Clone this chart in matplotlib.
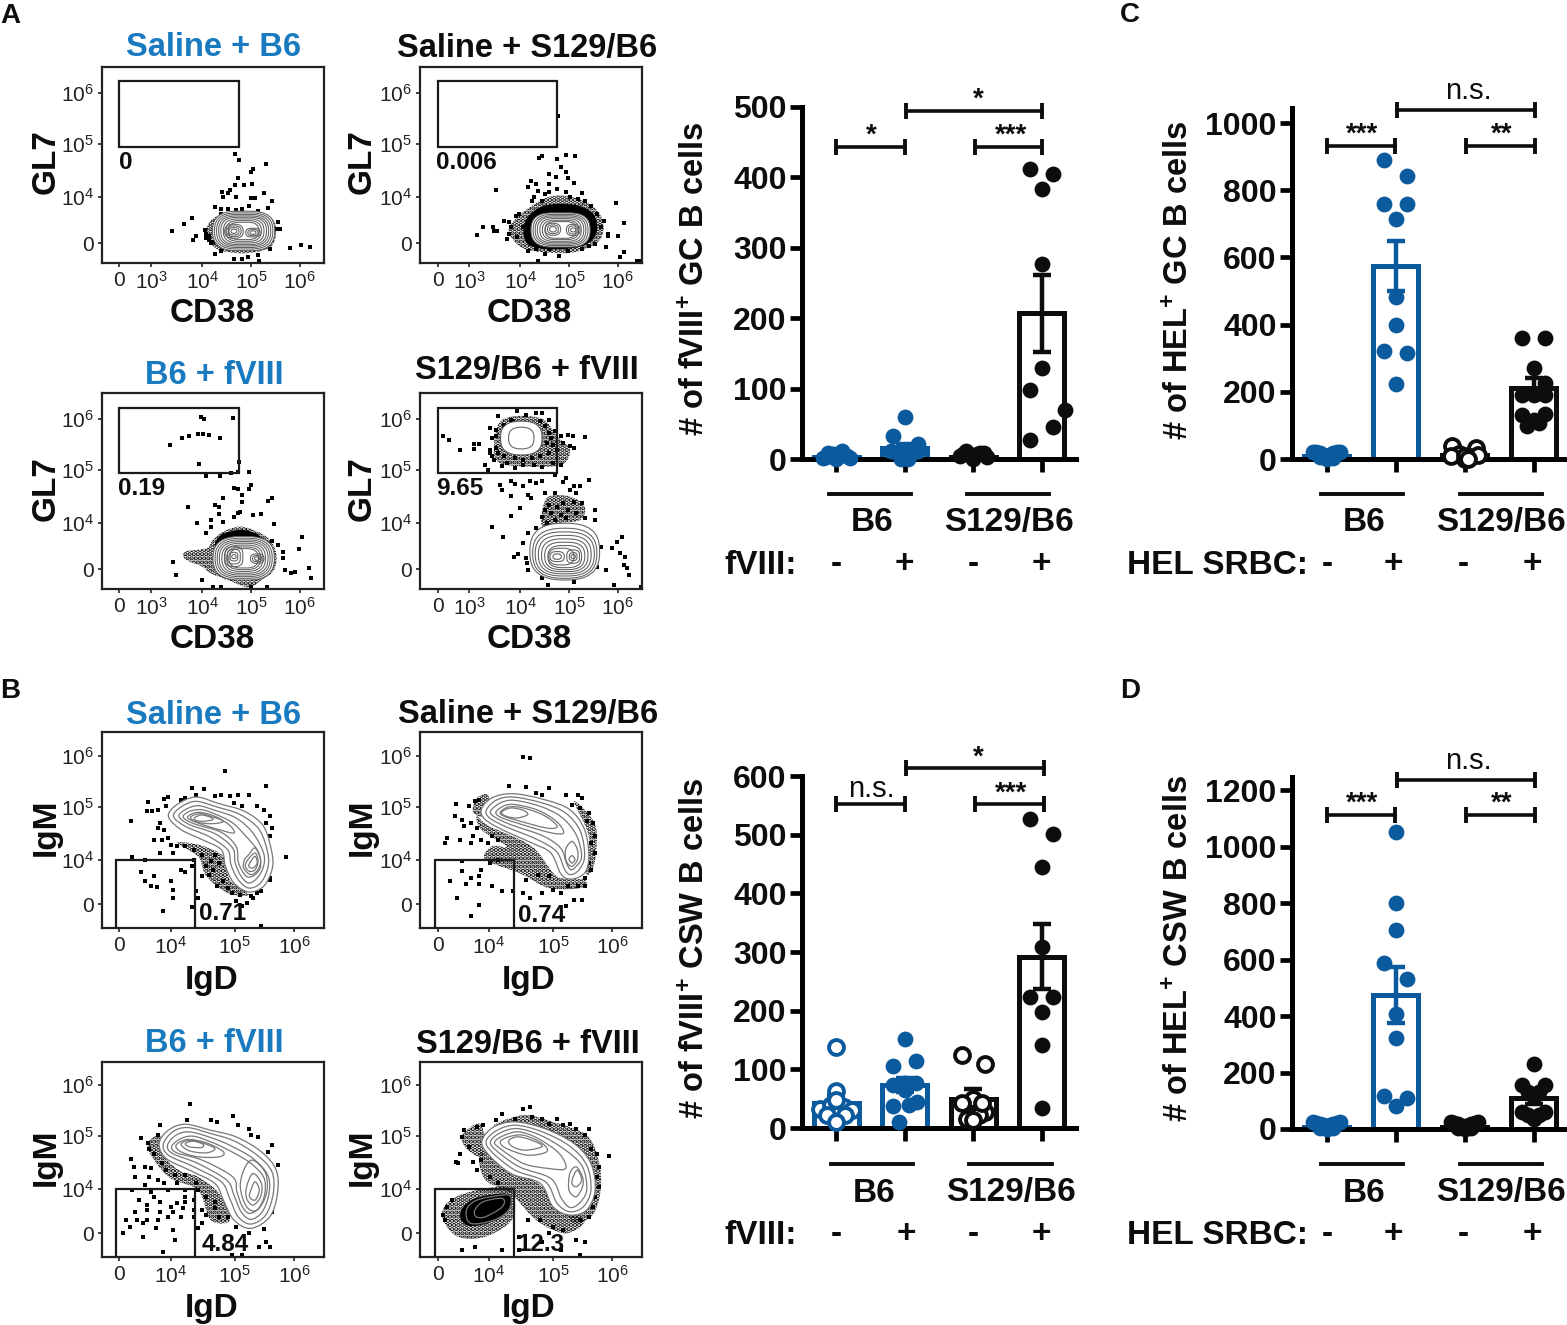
import numpy as np
import matplotlib
matplotlib.use("Agg")
import matplotlib.pyplot as plt
from matplotlib.lines import Line2D
from matplotlib.patches import PathPatch, Polygon, FancyBboxPatch
from matplotlib.path import Path

plt.rcParams['font.family'] = ['Liberation Sans', 'DejaVu Sans']
plt.rcParams['mathtext.fontset'] = 'custom'
plt.rcParams['mathtext.bf'] = 'Liberation Sans:bold'
plt.rcParams['mathtext.rm'] = 'Liberation Sans'
plt.rcParams['hatch.linewidth'] = 2.2

W, H = 1567, 1325
BLUE = '#0b5a9e'
TITLE_BLUE = '#1a7abf'
INK = '#0d0d0d'

# ---- bar panels: group means, errors, and dots (offset from group centre, value)
gc_f8_mean = [3, 16, 3, 207]
gc_f8_err = [1, 6, 1, 55]
gc_f8_off = [[-.2, -.15, -.1, -.05, 0, .05, .1, .15, .2, -.12, .08, 0],
             [0, -.17, .19, -.1, 0, .1, 0, -.05, .05, -.2, .2],
             [-.2, -.15, -.1, -.05, 0, .05, .1, .15, .2, 0],
             [-.17, .17, 0, 0, 0, -.17, .34, .17, -.17]]
gc_f8_val = [[1, 3, 6, 7, 5, 9, 6, 4, 1, 9, 11, 0],
             [60, 33, 22, 10, 12, 8, 3, 0, 0, 12, 12],
             [4, 7, 12, 6, 3, 7, 9, 8, 3, 0],
             [412, 405, 383, 277, 129, 98, 70, 45, 27]]
gc_f8_open = [False, False, False, False]

csw_f8_mean = [42, 73, 50, 292]
csw_f8_err = [14, 12, 17, 55]
csw_f8_off = [[0, 0, -.23, -.08, .11, .23, 0, -.13, .13, 0, 0],
              [0, .17, -.17, 0, -.17, .17, 0, .18, .06, -.17, -.08],
              [-.17, .17, 0, .17, .08, -.09, 0, -.17, .13],
              [-.17, .17, 0, 0, -.17, .17, 0, 0, 0]]
csw_f8_val = [[138, 63, 33, 39, 36, 30, 22, 22, 22, 10, 47],
              [152, 115, 106, 76, 73, 76, 64, 44, 39, 38, 10],
              [124, 109, 50, 27, 22, 16, 13, 42, 42],
              [526, 501, 445, 309, 224, 224, 197, 142, 34]]
csw_f8_open = [True, False, True, False]

gc_hel_mean = [8, 575, 13, 212]
gc_hel_err = [2, 75, 5, 30]
gc_hel_off = [[-.2, -.15, -.1, -.05, 0, .05, .1, .15, .2, 0, -.1, .1],
              [-.17, .17, -.17, .17, 0, 0, 0, -.17, .17, 0],
              [-.18, .16, -.08, 0, .08, .2, -.2, 0, .05],
              [-.17, .17, 0, .17, -.17, 0, .17, -.17, .17, 0, -.09, .08]]
gc_hel_val = [[22, 22, 18, 12, 6, 12, 18, 22, 22, 0, 5, 3],
              [891, 842, 758, 758, 715, 482, 398, 323, 315, 222],
              [38, 33, 14, 0, 5, 12, 8, 10, 0],
              [361, 361, 271, 226, 191, 191, 191, 132, 135, 115, 97, 107]]
gc_hel_open = [False, False, True, False]

csw_hel_mean = [8, 475, 8, 110]
csw_hel_err = [2, 100, 2, 20]
csw_hel_off = [[-.2, -.15, -.1, -.05, 0, .05, .1, .15, .2, 0, -.1, .1],
               [0, 0, 0, -.17, .17, 0, 0, -.17, .17, 0],
               [-.2, -.15, -.1, -.05, 0, .05, .1, .15, .2, 0, -.1, .1],
               [0, -.17, .17, -.08, .08, 0, -.17, .17, -.08, .08, 0]]
csw_hel_val = [[24, 22, 18, 14, 12, 14, 18, 22, 24, 0, 3, 2],
               [1052, 799, 705, 589, 530, 407, 321, 116, 110, 83],
               [24, 22, 16, 12, 10, 12, 16, 22, 24, 0, 2, 4],
               [232, 155, 155, 131, 131, 114, 60, 60, 48, 48, 37]]
csw_hel_open = [False, False, False, False]

group_colors = [BLUE, BLUE, INK, INK]

# ---- flow panels, read in scan channels
ticks_cd38_1 = [284, 360, 480, 596, 711]
ticks_cd38_2 = [1037, 1112, 1233, 1348, 1463]
ticks_igd_1 = [284, 405, 557, 697]
ticks_igd_2 = [1037, 1158, 1310, 1450]
labels_cd38 = ['0', r'$\mathregular{10^3}$', r'$\mathregular{10^4}$', r'$\mathregular{10^5}$', r'$\mathregular{10^6}$']
labels_igd = ['0', r'$\mathregular{10^4}$', r'$\mathregular{10^5}$', r'$\mathregular{10^6}$']
labels_y = ['0', r'$\mathregular{10^4}$', r'$\mathregular{10^5}$', r'$\mathregular{10^6}$']

a1_dots = [(558,462),(568,478),(630,492),(600,505),(595,515),(565,533),(557,553),(578,553),(598,549),(527,575),
           (545,567),(542,578),(530,590),(560,590),(625,577),(595,593),(605,592),(645,600),(510,620),(525,625),
           (540,625),(560,628),(575,625),(590,615),(613,630),(635,622),(525,640),(455,652),(437,671),(408,691),
           (465,705),(458,718),(487,687),(490,700),(490,712),(497,718),(500,728),(660,665),(665,685),(655,686),
           (510,760),(525,752),(555,775),(575,775),(588,768),(612,763),(615,782),(687,741),(713,733),(735,738),
           (495,705),(505,725),(640,745),(545,745)]
a2_dots = [(1175,568),(1460,606),(1285,468),(1278,472),(1320,475),(1342,463),(1362,468),(1330,500),(1340,515),
           (1300,520),(1318,530),(1345,532),(1258,540),(1250,558),(1270,550),(1275,570),(1300,550),(1360,548),
           (1380,578),(1290,580),(1340,575),(1350,590),(1230,640),(1222,645),(1195,660),(1145,678),(1130,702),
           (1168,680),(1170,690),(1178,690),(1478,668),(1440,700),(1465,707),(1435,738),(1478,753),(1470,768),
           (1275,780),(1290,760),(1325,765),(1300,745),(1345,750),(1205,700),(1210,680),(1225,710),(1430,660),
           (1425,680),(1510,780),(1518,780),(1322,348),(1260,600),(1285,600),(1400,615),(1415,640),(1240,680),
           (1300,575),(1320,565),(1265,590),(1370,595),(1385,600),(1205,665),(1200,715),(1250,750),(1270,745),
           (1395,735),(1410,730),(1380,745),(1440,705)]
a3_dots = [(403,287),(432,266),(448,260),(470,253),(483,252),(497,257),(522,266),(478,201),(485,208),(553,205),
           (472,342),(568,338),(490,378),(522,378),(548,370),(565,368),(590,368),(555,415),(565,418),(575,435),
           (595,405),(590,418),(635,453),(645,443),(447,470),(510,465),(520,472),(530,445),(575,455),(565,490),
           (570,485),(520,492),(555,500),(600,495),(618,492),(467,520),(500,510),(530,515),(650,522),(715,562),
           (708,598),(733,655),(738,685),(700,665),(690,668),(675,660),(672,625),(672,605),(660,585),(645,572),
           (412,637),(417,676),(480,690),(505,712),(525,712),(595,712),(633,712),(490,550),(500,530)]
a4_dots = [(1050,260),(1063,270),(1090,300),(1122,282),(1135,282),(1122,298),(1155,360),(1150,345),(1165,320),
           (1160,300),(1175,295),(1165,265),(1190,268),(1200,275),(1180,200),(1160,235),(1175,240),(1195,225),
           (1210,210),(1225,185),(1245,195),(1270,190),(1285,190),(1300,210),(1290,230),(1315,245),(1330,260),
           (1345,255),(1358,260),(1385,262),(1305,265),(1310,285),(1335,280),(1350,290),(1360,295),(1320,300),
           (1300,310),(1280,320),(1260,325),(1240,330),(1220,325),(1195,320),(1180,310),(1170,330),(1200,340),
           (1220,355),(1240,345),(1265,345),(1285,352),(1310,340),(1330,345),(1190,350),(1160,310),(1215,215),
           (1280,215),(1300,250),(1175,260),(1200,250),(1295,280),(1205,300),(1185,405),(1190,420),(1210,395),
           (1220,403),(1240,408),(1255,393),(1270,400),(1285,395),(1315,375),(1340,385),(1335,398),(1360,410),
           (1395,392),(1375,408),(1210,438),(1250,435),(1258,445),(1290,430),(1315,430),(1350,420),(1365,430),
           (1335,458),(1360,455),(1380,460),(1300,465),(1320,472),(1345,480),(1290,480),(1410,480),(1233,475),
           (1210,497),(1285,500),(1305,490),(1330,495),(1365,490),(1385,505),(1410,510),(1165,532),(1192,560),
           (1295,520),(1315,510),(1340,505),(1270,535),(1250,550),(1240,580),(1228,612),(1218,620),(1245,625),
           (1248,640),(1252,660),(1285,685),(1298,705),(1360,695),(1415,650),(1435,660),(1425,590),(1450,595),
           (1462,575),(1473,560),(1470,610),(1480,620),(1478,645),(1485,655),(1490,675),(1455,705),(1518,712)]
b1_dots = [(535,275),(632,320),(311,424),(678,532),(620,738),(455,325),(485,327),(440,355),(400,352),(390,358),
           (352,368),(350,395),(362,395),(375,390),(395,380),(430,360),(465,345),(510,350),(525,345),(545,350),
           (590,345),(565,345),(555,370),(575,380),(610,380),(625,392),(640,410),(630,430),(645,445),(640,470),
           (380,430),(375,445),(390,450),(365,480),(385,480),(400,475),(405,495),(420,500),(440,500),(460,510),
           (380,520),(410,520),(345,540),(315,532),(335,578),(365,590),(345,605),(360,620),(372,622),(405,605),
           (410,630),(410,655),(388,695),(430,570),(440,578),(460,540),(455,560),(480,525),(510,525),(520,550),
           (490,560),(500,545),(505,570),(480,590),(495,585),(465,635),(455,683),(470,655),(515,620),(540,625),
           (550,640),(570,645),(595,650),(610,640),(620,635),(560,665),(585,670),(600,655),(640,600),(640,595),
           (530,605),(575,680)]
b2_dots = [(1240,232),(1255,235),(1080,373),(1078,410),(1060,475),(1055,490),(1090,480),(1115,490),(1125,365),
           (1135,360),(1110,380),(1095,420),(1100,440),(1115,430),(1130,445),(1120,470),(1140,480),(1155,490),
           (1165,470),(1180,480),(1205,320),(1245,322),(1270,340),(1300,325),(1285,345),(1340,345),(1370,345),
           (1380,355),(1355,375),(1375,385),(1395,400),(1405,430),(1390,425),(1410,470),(1400,490),(1410,520),
           (1395,550),(1400,570),(1385,595),(1095,545),(1095,575),(1065,605),(1115,595),(1105,612),(1135,590),
           (1140,570),(1135,612),(1165,618),(1190,635),(1215,635),(1082,655),(1135,675),(1115,710),(1240,640),
           (1255,655),(1285,640),(1310,630),(1330,640),(1360,660),(1380,660),(1340,680),(1345,620),(1370,620),
           (1385,620),(1300,590),(1245,600),(1275,585),(1160,550),(1180,540)]
b3_dots = [(451,252),(445,300),(500,298),(515,305),(552,288),(590,325),(565,315),(380,315),(375,345),(335,352),
           (352,368),(355,385),(365,400),(612,350),(595,345),(645,375),(635,395),(660,435),(312,415),(318,440),
           (345,440),(360,445),(385,430),(395,450),(415,465),(440,465),(320,470),(355,470),(375,480),(345,495),
           (390,490),(420,490),(465,490),(315,510),(360,515),(400,510),(440,510),(470,510),(330,540),(350,555),
           (380,545),(405,560),(420,550),(440,545),(460,540),(490,530),(510,545),(320,575),(350,570),(380,575),
           (410,575),(435,565),(460,570),(480,570),(510,565),(300,600),(325,600),(350,600),(375,600),(400,590),
           (430,590),(460,590),(490,585),(520,590),(310,620),(340,610),(370,625),(410,630),(415,660),(293,638),
           (340,650),(388,695),(470,625),(560,620),(590,640),(625,628),(630,665),(615,680),(640,680),(550,705),
           (575,705),(480,610),(540,590),(645,575),(440,530),(365,530)]
b4_dots = [(1255,260),(1240,265),(1190,280),(1220,295),(1260,290),(1285,295),(1320,295),(1350,310),(1395,325),
           (1100,330),(1130,320),(1145,315),(1175,300),(1300,310),(1335,315),(1365,325),(1385,345),(1400,385),
           (1415,400),(1442,408),(1420,440),(1415,470),(1420,500),(1410,530),(1405,560),(1395,590),(1375,600),
           (1095,350),(1110,380),(1090,400),(1085,430),(1120,425),(1140,420),(1080,425),(1130,450),(1160,470),
           (1180,490),(1055,600),(1050,585),(1070,540),(1060,560),(1095,690),(1125,680),(1190,690),(1230,650),
           (1250,600),(1280,600),(1310,620),(1335,630),(1365,660),(1385,665),(1375,705),(1300,640),(1230,690),
           (1285,665),(1330,690)]

# solid black where the events pile up too thick to separate
a1_solid = []
a2_solid = [[(1280,620),(1320,610),(1370,615),(1405,640),(1415,685),(1400,722),(1360,742),(1290,745),(1250,730),(1240,690),(1250,650)]]
a3_solid = [[(525,555),(570,540),(605,550),(625,570),(640,600),(600,610),(540,600),(510,590)]]
a4_solid = []
b1_solid = []
b2_solid = []
b3_solid = []
b4_solid = [[(1095,565),(1125,535),(1190,520),(1212,530),(1205,572),(1165,605),(1115,618),(1092,598)]]

# stippled where the events are thick but still show white between them
a1_stipple = [[(530,640),(575,632),(640,650),(655,690),(640,740),(580,758),(515,745),(490,700),(500,660)]]
a2_stipple = [[(1280,600),(1320,585),(1370,595),(1415,630),(1430,680),(1415,725),(1360,755),(1290,755),(1235,740),(1205,690),(1230,645)]]
a3_stipple = [[(530,545),(570,530),(610,545),(640,570),(655,610),(650,660),(620,690),(590,712),(540,690),(500,670),(480,650),(440,628),(440,605),(490,595),(505,570)]]
a4_stipple = [[(1300,440),(1350,440),(1385,470),(1375,510),(1320,520),(1285,530),(1285,480)],
              [(1170,300),(1190,210),(1280,205),(1320,260),(1350,300),(1330,345),(1250,350),(1185,340)]]
b1_stipple = [[(420,490),(470,495),(530,530),(545,600),(590,645),(540,640),(490,590),(470,530)]]
b2_stipple = [[(1130,410),(1160,440),(1260,500),(1320,590),(1385,600),(1375,625),(1300,625),(1230,580),(1150,540),(1165,500),(1200,500),(1140,450)],
              [(1130,355),(1155,345),(1160,385),(1140,410),(1120,395)],
              [(1360,365),(1410,435),(1410,540),(1395,585),(1385,560),(1395,470)]]
b3_stipple = [[(350,380),(380,345),(385,400),(425,450),(470,470),(520,520),(545,600),(500,600),(470,510),(400,470)]]
b4_stipple = [[(1055,555),(1100,520),(1190,500),(1218,530),(1212,600),(1150,650),(1085,650),(1050,600)],
              [(1135,410),(1160,400),(1280,495),(1320,570),(1385,600),(1340,640),(1270,600),(1210,520),(1150,480)],
              [(1095,345),(1135,310),(1150,365),(1140,410),(1105,385)],
              [(1170,315),(1240,285),(1310,305),(1390,345),(1420,430),(1422,520),(1400,590),(1350,595),(1350,400),(1220,320)]]

# rings for the CD38 plots: centre x, centre y, width, height
a1_rings = [(578,691,147,118),(578,691,138,108),(578,691,128,99),(578,691,118,90),(578,691,108,82),(578,691,96,72),
            (578,691,84,62),(578,691,72,52),(555,692,44,42),(555,692,34,32),(555,692,24,22),(555,692,14,12),
            (600,696,34,26),(600,696,24,18),(600,696,14,10)]
a2_rings = [(1328,688,140,102),(1328,688,130,93),(1328,688,120,85),(1328,688,110,77),(1328,688,98,68),(1328,688,86,58),
            (1328,688,74,50),(1310,686,36,36),(1310,686,26,26),(1310,686,16,16),(1358,688,32,34),(1358,688,22,24),(1358,688,12,12)]
a3_rings = [(578,625,145,130),(578,625,135,120),(578,625,125,110),(578,625,115,100),(578,625,103,90),(578,625,91,79),
            (578,625,80,68),(578,625,70,58),(555,620,42,60),(555,620,30,44),(555,620,18,26),(555,620,10,12),
            (610,626,32,28),(610,626,22,18),(610,626,12,10)]
a4_rings = [(1338,605,165,170),(1338,610,152,150),(1338,612,140,132),(1338,614,125,115),(1338,616,110,98),
            (1338,618,95,82),(1338,620,80,66),(1330,620,60,50),(1358,620,30,40),(1358,620,18,24),(1358,620,10,12),
            (1320,620,34,30),(1320,620,20,16),
            (1235,265,98,101),(1235,265,60,65)]

# hand traced contours for the IgD/IgM plots
b1_curves = [[(400,410),(420,375),(465,352),(520,372),(580,395),(625,440),(645,520),(645,570),(625,620),(590,637),(555,610),(535,560),(525,510),(480,480),(430,450)],
             [(412,410),(430,382),(465,365),(515,382),(570,405),(615,450),(635,520),(635,565),(618,610),(590,625),(565,600),(548,555),(540,510),(495,470),(440,440)],
             [(425,410),(440,390),(470,378),(510,392),(560,415),(600,460),(625,520),(625,560),(610,595),(590,610),(572,590),(558,550),(552,505),(510,462),(450,435)],
             [(435,412),(450,395),(478,390),(510,403),(550,428),(580,465),(612,515),(618,560),(605,585),(588,592),(575,575),(565,545),(560,500),(525,458),(460,432)],
             [(445,413),(470,398),(510,410),(545,437),(555,460),(520,450),(470,430)],
             [(452,413),(475,402),(505,412),(530,425),(505,432),(470,428)],
             [(462,414),(478,406),(498,412),(505,420),(482,425),(465,422)],
             [(590,525),(605,505),(618,540),(612,570),(595,585),(578,565),(580,540)],
             [(588,540),(605,520),(612,545),(605,570),(592,575),(582,560)],
             [(595,545),(605,530),(610,550),(600,565),(590,560)]]
b2_curves = [[(1140,390),(1165,355),(1215,342),(1290,360),(1350,390),(1385,450),(1395,530),(1385,580),(1355,598),(1330,585),(1305,520),(1260,490),(1190,450),(1150,420)],
             [(1152,392),(1175,362),(1215,352),(1285,370),(1340,400),(1375,455),(1385,530),(1372,570),(1352,585),(1338,570),(1318,515),(1270,478),(1200,442),(1160,415)],
             [(1162,395),(1185,370),(1218,362),(1280,380),(1330,412),(1365,465),(1378,530),(1365,560),(1352,570),(1342,550),(1328,505),(1285,468),(1210,435),(1172,412)],
             [(1175,397),(1195,378),(1222,375),(1275,392),(1318,425),(1335,460),(1300,458),(1220,428),(1185,412)],
             [(1185,398),(1205,382),(1240,385),(1290,408),(1320,440),(1295,445),(1225,422),(1195,410)],
             [(1188,398),(1210,385),(1240,392),(1250,405),(1225,415),(1200,410)],
             [(1340,510),(1355,485),(1368,510),(1368,540),(1355,560),(1342,545)],
             [(1348,538),(1356,528),(1362,540),(1355,550)]]
b3_curves = [[(378,370),(400,330),(440,312),(500,330),(560,350),(620,395),(655,450),(658,520),(640,590),(595,625),(555,600),(530,540),(510,490),(450,450),(395,415)],
             [(388,372),(410,335),(445,322),(500,340),(555,362),(610,405),(645,455),(648,520),(630,585),(595,612),(565,590),(545,535),(525,485),(460,440),(400,405)],
             [(398,375),(418,345),(450,335),(500,352),(545,375),(600,415),(635,465),(638,520),(622,575),(595,598),(572,575),(555,525),(538,480),(470,430),(410,400)],
             [(408,378),(430,355),(460,348),(500,365),(535,385),(590,425),(625,470),(628,520),(615,562),(592,580),(575,560),(562,515),(552,470),(480,420),(420,398)],
             [(418,375),(445,358),(490,368),(530,395),(520,410),(470,410),(430,395)],
             [(430,372),(450,360),(480,368),(510,385),(490,398),(450,392)],
             [(440,370),(458,363),(482,372),(478,382),(450,380)],
             [(580,445),(600,420),(630,460),(632,520),(610,570),(585,560),(570,500)],
             [(585,500),(600,460),(620,490),(618,530),(600,555),(585,535)],
             [(595,510),(605,485),(615,510),(605,540),(592,530)]]
b4_curves = [[(1142,360),(1170,320),(1220,305),(1290,325),(1360,370),(1400,430),(1410,510),(1390,570),(1350,585),(1310,560),(1280,490),(1210,460),(1155,400)],
             [(1152,362),(1178,330),(1222,315),(1285,335),(1350,378),(1390,435),(1400,510),(1382,560),(1350,575),(1320,550),(1292,485),(1220,450),(1165,395)],
             [(1162,364),(1185,338),(1225,325),(1280,345),(1340,390),(1380,440),(1390,510),(1372,550),(1350,562),(1330,535),(1305,475),(1230,440),(1175,390)],
             [(1172,365),(1195,345),(1230,335),(1275,355),(1325,400),(1340,445),(1300,445),(1240,430),(1185,385)],
             [(1185,365),(1205,350),(1240,345),(1285,370),(1295,395),(1250,405),(1200,385)],
             [(1205,362),(1225,350),(1255,358),(1285,378),(1245,390),(1215,380)],
             [(1350,460),(1365,440),(1380,470),(1380,500),(1365,530),(1348,510)],
             [(1358,470),(1368,450),(1378,480),(1365,500),(1355,490)],
             [(1105,570),(1130,540),(1190,525),(1210,530),(1205,570),(1170,600),(1115,610)],
             [(1125,570),(1145,545),(1190,535),(1190,560),(1150,590),(1128,590)]]


def closed_curve(pts):
    # catmull-rom through the traced points
    P = np.array(pts, dtype=float)
    n = len(P)
    verts = [P[0]]
    codes = [Path.MOVETO]
    for i in range(n):
        p0, p1, p2, p3 = P[i - 1], P[i], P[(i + 1) % n], P[(i + 2) % n]
        verts += [p1 + (p2 - p0) / 6, p2 - (p3 - p1) / 6, p2]
        codes += [Path.CURVE4] * 3
    return Path(verts, codes)


fig = plt.figure(figsize=(W / 100, H / 100), dpi=100)


def add_ax(x0, y0, x1, y1):
    return fig.add_axes([x0 / W, 1 - y1 / H, (x1 - x0) / W, (y1 - y0) / H])


def put(px, py, s, **kw):
    kw.setdefault('ha', 'center')
    kw.setdefault('va', 'center')
    kw.setdefault('fontweight', 'bold')
    kw.setdefault('fontsize', 24)
    kw.setdefault('color', INK)
    fig.text(px / W, 1 - py / H, s, **kw)


def flow_panel(box, xlim, ylim, xticks, xlabels, yticks, dots, solid, stipple, rings, curves, gate, gate_txt, gate_pos):
    ax = add_ax(*box)
    ax.set_xlim(*xlim)
    ax.set_ylim(*ylim)
    for s in ax.spines.values():
        s.set_linewidth(1.6)
        s.set_color('#222222')
    ax.set_xticks(xticks, xlabels, fontsize=15, color='#222222')
    ax.set_yticks(yticks, labels_y, fontsize=15, color='#222222')
    ax.tick_params(length=3, width=1.2, color='#222222')
    ax.tick_params(axis='y', pad=2.5)
    ax.tick_params(axis='x', pad=3)
    xy = np.array(dots)
    ax.scatter(xy[:, 0], xy[:, 1], marker='s', s=7, color='black', linewidths=0, zorder=2)
    for h in stipple:
        ax.add_patch(PathPatch(closed_curve(h), fc='none', ec='black', lw=0, hatch='....', zorder=2))
    for h in solid:
        ax.add_patch(PathPatch(closed_curve(h), fc='black', ec='none', zorder=2))
    first = True
    for cx, cy, w, h in rings:
        big = w > 90 or first
        ax.add_patch(FancyBboxPatch((cx - w / 2, cy - h / 2), w, h,
                                    boxstyle='round,pad=0,rounding_size=%.1f' % (0.47 * min(w, h)),
                                    fc='white' if big else 'none', ec='#5e5e5e', lw=0.75, zorder=3))
        first = False
    for i, c in enumerate(curves):
        ax.add_patch(PathPatch(closed_curve(c), fc='white' if i == 0 else 'none', ec='#777777', lw=0.9, zorder=3))
    ax.add_patch(Polygon([(gate[0], gate[1]), (gate[2], gate[1]), (gate[2], gate[3]), (gate[0], gate[3])],
                         closed=True, fc='none', ec='#1a1a1a', lw=1.6, zorder=4, clip_on=True))
    ax.text(gate_pos[0], gate_pos[1], gate_txt, fontsize=17.5, fontweight='bold', color=INK,
            ha='left', va='center', zorder=5)
    return ax


# CD38 / GL7
flow_panel((102, 67, 324, 263), (243, 768), (787, 200), ticks_cd38_1, labels_cd38, [728, 588, 430, 277],
           a1_dots, a1_solid, a1_stipple, a1_rings, [], (284, 243, 567, 440), '0', (284, 485))
flow_panel((420, 67, 642, 263), (995, 1521), (787, 200), ticks_cd38_2, labels_cd38, [728, 588, 430, 277],
           a2_dots, a2_solid, a2_stipple, a2_rings, [], (1037, 243, 1320, 440), '0.006', (1034, 485))
flow_panel((102, 393, 324, 589), (243, 768), (717, 130), ticks_cd38_1, labels_cd38, [658, 518, 360, 207],
           a3_dots, a3_solid, a3_stipple, a3_rings, [], (284, 175, 567, 370), '0.19', (281, 415))
flow_panel((420, 393, 642, 589), (995, 1521), (717, 130), ticks_cd38_2, labels_cd38, [658, 518, 360, 207],
           a4_dots, a4_solid, a4_stipple, a4_rings, [], (1037, 175, 1320, 370), '9.65', (1034, 415))
# IgD / IgM
flow_panel((102, 732, 324, 928), (243, 768), (745, 157), ticks_igd_1, labels_igd, [673, 540, 382, 230],
           b1_dots, b1_solid, b1_stipple, [], b1_curves, (277, 540, 464, 760), '0.71', (472, 703))
flow_panel((420, 732, 642, 928), (995, 1521), (745, 157), ticks_igd_2, labels_igd, [673, 540, 382, 230],
           b2_dots, b2_solid, b2_stipple, [], b2_curves, (1030, 540, 1217, 760), '0.74', (1228, 706))
flow_panel((102, 1062, 324, 1257), (243, 768), (711, 125), ticks_igd_1, labels_igd, [640, 507, 348, 195],
           b3_dots, b3_solid, b3_stipple, [], b3_curves, (277, 507, 464, 730), '4.84', (478, 672))
flow_panel((420, 1062, 642, 1257), (995, 1521), (711, 125), ticks_igd_2, labels_igd, [640, 507, 348, 195],
           b4_dots, b4_solid, b4_stipple, [], b4_curves, (1030, 507, 1217, 730), '12.3', (1225, 672))

# flow titles and axis names
for px, py, s, c in [(214, 48, 'Saline + B6', TITLE_BLUE), (527, 48, 'Saline + S129/B6', INK),
                     (214, 376, 'B6 + fVIII', TITLE_BLUE), (527, 371, 'S129/B6 + fVIII', INK),
                     (214, 715, 'Saline + B6', TITLE_BLUE), (528, 715, 'Saline + S129/B6', INK),
                     (214, 1044, 'B6 + fVIII', TITLE_BLUE), (528, 1044, 'S129/B6 + fVIII', INK)]:
    put(px, py, s, color=c, fontsize=23.5)
for px in (212, 529):
    put(px, 313, 'CD38')
    put(px, 640, 'CD38')
    put(px, 980, 'IgD')
    put(px, 1308, 'IgD')
for px in (46, 362):
    put(px, 162, 'GL7', rotation=90)
    put(px, 489, 'GL7', rotation=90)
    put(px, 827, 'IgM', rotation=90)
    put(px, 1157, 'IgM', rotation=90)
for px, py, s in [(10, 16, 'A'), (10, 691, 'B'), (1130, 15, 'C'), (1130, 691, 'D')]:
    put(px, py, s, fontsize=20)


def bar_panel(box, ylim, yticks, mean, err, off, val, hollow, spans):
    ax = add_ax(*box)
    ax.set_xlim(-0.5, 3.5)
    ax.set_ylim(*ylim)
    ax.spines['top'].set_visible(False)
    ax.spines['right'].set_visible(False)
    ax.spines['left'].set_linewidth(3.6)
    ax.spines['bottom'].set_linewidth(3.6)
    ax.patch.set_alpha(0)
    ax.set_xticks(range(4), [''] * 4)
    ax.set_yticks(yticks)
    ax.tick_params(axis='both', length=9, width=3.4)
    ax.tick_params(axis='y', labelsize=23, pad=2)
    for t in ax.get_yticklabels():
        t.set_fontweight('bold')
        t.set_color(INK)
    for i in range(4):
        c = group_colors[i]
        ax.bar(i, mean[i], width=0.66, facecolor='white', edgecolor=c, linewidth=3.6, zorder=2)
        ax.errorbar(i, mean[i], yerr=err[i], color=c, elinewidth=3.2, capsize=6.5, capthick=3.2, zorder=3)
        if hollow[i]:
            ax.scatter(np.array(off[i]) + i, val[i], s=115, facecolor='white', edgecolor=c, linewidth=2.8,
                       clip_on=False, zorder=4)
        else:
            ax.scatter(np.array(off[i]) + i, val[i], s=130, color=c, linewidth=0, clip_on=False, zorder=4)
    # significance brackets
    for x0, x1, y in spans:
        ax.plot([x0, x1], [y, y], color=INK, lw=2.6, marker='|', ms=12, mew=2.8, clip_on=False, zorder=5)
    return ax


gc_f8_ax = bar_panel((802, 107, 1076, 459), (0, 500), [0, 100, 200, 300, 400, 500],
                     gc_f8_mean, gc_f8_err, gc_f8_off, gc_f8_val, gc_f8_open,
                     [(1.02, 3.01, 495), (0, 1, 443), (2.02, 3.01, 443)])
csw_f8_ax = bar_panel((802, 776, 1076, 1128), (0, 600), [0, 100, 200, 300, 400, 500, 600],
                      csw_f8_mean, csw_f8_err, csw_f8_off, csw_f8_val, csw_f8_open,
                      [(1.02, 3.03, 613), (0, 1, 552), (2.03, 3.03, 552)])
gc_hel_ax = bar_panel((1292, 108, 1568, 459), (0, 1045), [0, 200, 400, 600, 800, 1000],
                      gc_hel_mean, gc_hel_err, gc_hel_off, gc_hel_val, gc_hel_open,
                      [(1.015, 3.02, 1040), (0, 0.99, 933), (2.02, 3.02, 933)])
csw_hel_ax = bar_panel((1292, 777, 1568, 1129), (0, 1247), [0, 200, 400, 600, 800, 1000, 1200],
                       csw_hel_mean, csw_hel_err, csw_hel_off, csw_hel_val, csw_hel_open,
                       [(1.015, 3.02, 1238), (0, 0.99, 1111), (2.02, 3.02, 1111)])

put(696, 279, r'# of fVIII$\mathbf{^{+}}$ GC B cells', rotation=90, fontsize=23.5)
put(695, 948, r'# of fVIII$\mathbf{^{+}}$ CSW B cells', rotation=90, fontsize=23.5)
put(1180, 280, r'# of HEL$\mathbf{^{+}}$ GC B cells', rotation=90, fontsize=23.5)
put(1180, 948, r'# of HEL$\mathbf{^{+}}$ CSW B cells', rotation=90, fontsize=23.5)


def under_labels(lines, line_y, names, name_y, row, row_y, row_right, marks):
    for x0, x1 in lines:
        fig.add_artist(Line2D([x0 / W, x1 / W], [1 - line_y / H] * 2, color=INK, lw=2.8))
    for px, s in names:
        put(px, name_y, s)
    put(row_right, row_y, row, ha='right')
    for px, s in marks:
        put(px, row_y, s)


f8_marks = [(836, '-'), (904, '+'), (973, '-'), (1041, '+')]
f8_marks2 = [(836, '-'), (906, '+'), (973, '-'), (1041, '+')]
hel_marks = [(1327, '-'), (1393, '+'), (1463, '-'), (1532, '+')]
under_labels([(829, 911), (967, 1049)], 494, [(872, 'B6'), (1009, 'S129/B6')], 523, 'fVIII:', 565, 797, f8_marks)
under_labels([(831, 913), (969, 1052)], 1164, [(874, 'B6'), (1011, 'S129/B6')], 1193, 'fVIII:', 1235, 797, f8_marks2)
under_labels([(1321, 1403), (1460, 1542)], 494, [(1364, 'B6'), (1501, 'S129/B6')], 523, 'HEL SRBC:', 565, 1308, hel_marks)
under_labels([(1321, 1403), (1460, 1542)], 1164, [(1364, 'B6'), (1501, 'S129/B6')], 1193, 'HEL SRBC:', 1235, 1308, hel_marks)

# significance text
for px, py, s in [(978, 100, '*'), (871, 136, '*'), (1011, 136, '***'),
                  (978, 758, '*'), (1011, 794, '***'),
                  (1362, 135, '***'), (1502, 135, '**'),
                  (1362, 804, '***'), (1502, 804, '**')]:
    put(px, py, s, fontsize=20)
for px, py in [(871, 789), (1468, 91), (1468, 761)]:
    put(px, py, 'n.s.', fontweight='normal', fontsize=21)

fig.savefig('out.png', dpi=100)
